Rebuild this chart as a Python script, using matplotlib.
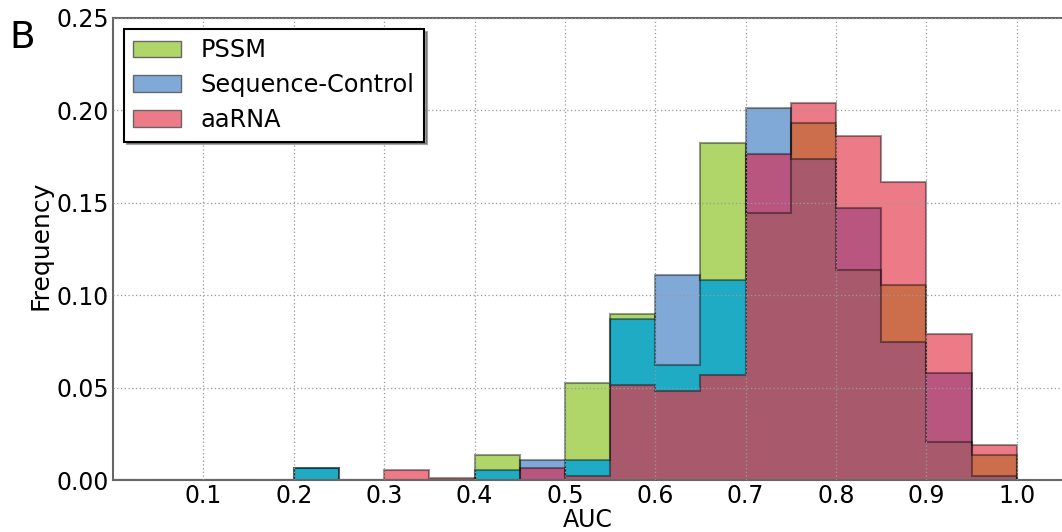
import numpy as np
import matplotlib
matplotlib.use('Agg')
import matplotlib.pyplot as plt
from matplotlib.patches import Patch

###DATA (frequency per AUC bin, bins of width 0.05 from 0.0 to 1.0)
bin_edges = np.round(np.arange(0, 1.0001, 0.05), 2)
series_names = ['PSSM', 'Sequence-Control', 'aaRNA']
pssm = [0, 0, 0, 0, 0.0066, 0, 0, 0, 0.0135, 0,
        0.0526, 0.0900, 0.0622, 0.1822, 0.1447, 0.1930, 0.1139, 0.1053, 0.0205, 0.0135]
seq_control = [0, 0, 0, 0, 0.0066, 0, 0, 0, 0.0052, 0.0110,
               0.0110, 0.0872, 0.1111, 0.1080, 0.2014, 0.1736, 0.1474, 0.0749, 0.0580, 0.0021]
aarna = [0, 0, 0, 0, 0, 0, 0.0053, 0.0012, 0, 0.0066,
         0.0024, 0.0514, 0.0483, 0.0568, 0.1764, 0.2041, 0.1860, 0.1610, 0.0789, 0.0191]
x_ticks = [0.1, 0.2, 0.3, 0.4, 0.5, 0.6, 0.7, 0.8, 0.9, 1.0]
y_ticks = [0.00, 0.05, 0.10, 0.15, 0.20, 0.25]

###COLOURS OF EACH OVERLAP
combo_colors = {
    ('PSSM',): '#b0d66a',
    ('Sequence-Control',): '#80a9d8',
    ('aaRNA',): '#ec7a87',
    ('PSSM', 'Sequence-Control'): '#1eabc3',
    ('Sequence-Control', 'aaRNA'): '#b85680',
    ('PSSM', 'aaRNA'): '#cc6e4c',
    ('PSSM', 'Sequence-Control', 'aaRNA'): '#a85a6c',
}

plt.rcParams['font.family'] = 'DejaVu Sans'
fig = plt.figure(figsize=(10.62, 5.32), dpi=100)
ax = fig.add_axes([0.1064, 0.0977, 0.8936, 0.8685])

all_vals = [pssm, seq_control, aarna]
width = bin_edges[1] - bin_edges[0]
for i in range(len(bin_edges) - 1):
    vals = {n: v[i] for n, v in zip(series_names, all_vals)}
    prev = 0
    for lev in sorted(set(v for v in vals.values() if v > 0)):
        active = tuple(n for n in series_names if vals[n] >= lev)
        ax.bar(bin_edges[i], lev - prev, width=width, bottom=prev, align='edge',
               color=combo_colors[active], linewidth=0)
        prev = lev

# outlines of each histogram
for v in all_vals:
    ax.stairs(v, bin_edges, baseline=0, fill=False, color='k', alpha=0.4, linewidth=1.5)

ax.set_xlim(0, 1.05)
ax.set_ylim(0, 0.25)
ax.set_xticks(x_ticks)
ax.set_xticklabels(['%.1f' % t for t in x_ticks])
ax.set_yticks(y_ticks)
ax.set_yticklabels(['%.2f' % t for t in y_ticks])
ax.tick_params(length=0, labelsize=17, pad=3)
ax.set_axisbelow(False)
ax.grid(True, color='#9a9a9a', linestyle=(0, (1, 2)), linewidth=0.9)

for side in ['left', 'bottom', 'top']:
    ax.spines[side].set_color('#666666')
    ax.spines[side].set_linewidth(1.5)
ax.spines['right'].set_visible(False)

ax.set_xlabel('AUC', fontsize=17, labelpad=0)
ax.set_ylabel('Frequency', fontsize=18)
ax.yaxis.set_label_coords(-0.064, 0.508)

handles = [Patch(facecolor=combo_colors[(n,)], edgecolor='#666666', linewidth=1) for n in series_names]
leg = ax.legend(handles, series_names, loc='upper left', fontsize=17.3, fancybox=False,
                shadow=True, framealpha=1, borderaxespad=0.45, handletextpad=0.8,
                labelspacing=0.45)
leg.get_frame().set_edgecolor('k')
leg.get_frame().set_linewidth(1.5)

fig.text(0.009, 0.91, 'B', fontsize=27, va='baseline', ha='left')

fig.savefig('out.png', dpi=100)
